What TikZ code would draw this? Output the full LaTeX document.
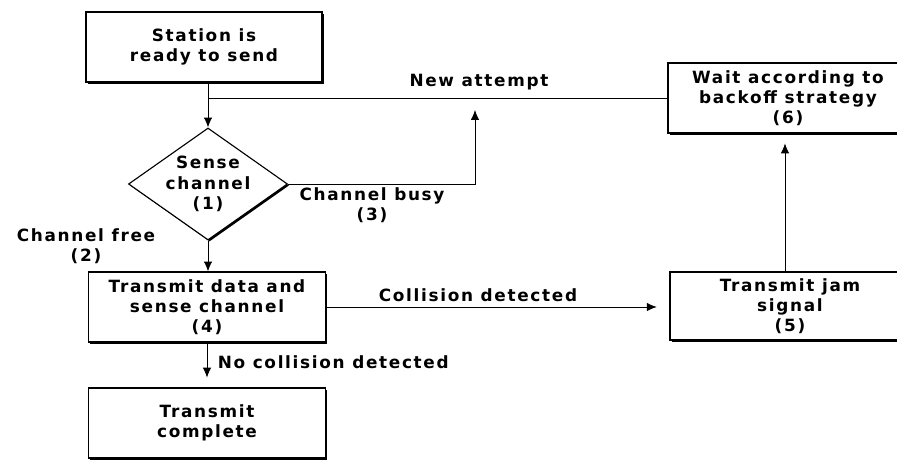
\documentclass[tikz,border=0pt]{standalone}
\usepackage{fontspec}
\setmainfont{DejaVu Sans}[LetterSpace=10]
\usetikzlibrary{shapes,shadows,arrows.meta}

\begin{document}
\begin{tikzpicture}[x=0.025cm,y=-0.025cm,>={Latex[length=7pt,width=6pt]},line width=0.6pt,auto,font=\bfseries\fontsize{12}{14.4}\selectfont]
\tikzstyle{stepbox}=[rectangle,draw,line width=0.8pt,fill=white,align=center,minimum width=5.9cm,minimum height=1.75cm,drop shadow={shadow xshift=1.1pt,shadow yshift=-1.1pt,fill=black,opacity=1}]
\tikzstyle{decision}=[diamond,draw,line width=0.8pt,fill=white,align=center,inner sep=-10pt,minimum width=3.975cm,minimum height=2.8cm,drop shadow={shadow xshift=1.1pt,shadow yshift=-1.1pt,fill=black,opacity=1}]
\tikzstyle{lbl}=[align=center,inner sep=1pt]
\useasboundingbox (0,0) rectangle (897,460);

\node[stepbox](station) at (204,47) {Station is\\ready to send};
\node[decision](sense) at (208,184) {Sense\\channel\\(1)};
\node[stepbox,minimum width=5.925cm](data) at (207,307) {Transmit data and\\sense channel\\(4)};
\node[stepbox,minimum width=5.925cm](done) at (207,423) {Transmit\\complete};
\node[stepbox,minimum width=6cm,minimum height=1.7cm](jam) at (790,306) {Transmit jam\\signal\\(5)};
\node[stepbox,minimum width=6cm](wait) at (788,98) {Wait according to\\backoff strategy\\(6)};
\coordinate (busytip) at (475,110);

\node[lbl](newlbl) at (479,82) {New attempt};
\node[lbl](busylbl) at (372,205) {Channel busy\\(3)};
\node[lbl](freelbl) at (86,246) {Channel free\\(2)};
\node[lbl](collbl) at (478,295) {Collision detected};
\node[lbl,anchor=west](nocollbl) at (216,362) {No collision detected};

\draw[->] (sense.north |- station.south) -- (sense.north);
\draw (wait.west) -- (wait.west -| sense.north);
\draw[->] (sense.east) -| (busytip);
\draw[->] (sense.south) -- (sense.south |- data.north);
\draw[->,shorten >=9pt] (data.east) -- (data.east -| jam.west);
\draw[->,shorten >=7pt] (data.south) -- (done.north);
\draw[->,shorten >=7pt] (jam.north -| 785,0) -- (wait.south -| 785,0);
\end{tikzpicture}
\end{document}
